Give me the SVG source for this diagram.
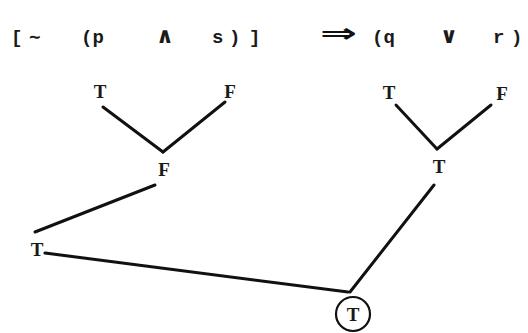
<svg xmlns="http://www.w3.org/2000/svg" width="528" height="333" viewBox="0 0 528 333">
<style>
.h{font-family:"Liberation Mono","DejaVu Sans Mono",monospace;font-size:19px;font-weight:bold;fill:#1a1a1a}
.o{font-family:"DejaVu Sans",sans-serif;font-size:22px;font-weight:bold;fill:#1a1a1a}
.v{font-family:"Liberation Serif","DejaVu Serif",serif;font-size:19px;font-weight:bold;fill:#1a1a1a}
.e{stroke:#111;stroke-width:3;stroke-linecap:round;fill:none}
</style>
<rect width="528" height="333" fill="#fff"/>
<g id="formula">
<text class="h" x="11" y="43">[</text>
<text class="h" x="29" y="43">∼</text>
<text class="h" x="81" y="43">(p</text>
<text class="o" x="165" y="43" text-anchor="middle">∧</text>
<text class="h" x="212" y="43">s</text>
<text class="h" x="229" y="43">)</text>
<text class="h" x="249" y="43">]</text>
<text x="320" y="42" font-family="DejaVu Sans,sans-serif" font-size="26" font-weight="bold" fill="#111" textLength="37" lengthAdjust="spacingAndGlyphs">⇒</text>
<text class="h" x="372" y="43">(q</text>
<text class="o" x="449" y="43" text-anchor="middle">∨</text>
<text class="h" x="493" y="43">r</text>
<text class="h" x="511" y="43">)</text>
</g>
<g id="connectors">
<line class="e" x1="103" y1="107" x2="163" y2="152"/>
<line class="e" x1="225" y1="102" x2="163" y2="152"/>
<line class="e" x1="155" y1="185" x2="35" y2="232"/>
<line class="e" x1="45" y1="253" x2="348" y2="292" stroke-width="2.6"/>
<line class="e" x1="396" y1="105" x2="437" y2="149"/>
<line class="e" x1="491" y1="105" x2="437" y2="149"/>
<line class="e" x1="434" y1="185" x2="350" y2="292" stroke-width="2.6"/>
</g>
<g id="p-T"><text class="v" x="100" y="98" text-anchor="middle">T</text></g>
<g id="s-F"><text class="v" x="230" y="98" text-anchor="middle">F</text></g>
<g id="and-F"><text class="v" x="164" y="176" text-anchor="middle">F</text></g>
<g id="not-T"><text class="v" x="37" y="256" text-anchor="middle">T</text></g>
<g id="q-T"><text class="v" x="389" y="99" text-anchor="middle">T</text></g>
<g id="r-F"><text class="v" x="502" y="100" text-anchor="middle">F</text></g>
<g id="or-T"><text class="v" x="439" y="173" text-anchor="middle">T</text></g>
<g id="root-T">
<circle cx="353" cy="314" r="17" fill="none" stroke="#111" stroke-width="2.2"/>
<text class="v" x="353" y="321" text-anchor="middle" font-size="18">T</text>
</g>
</svg>
